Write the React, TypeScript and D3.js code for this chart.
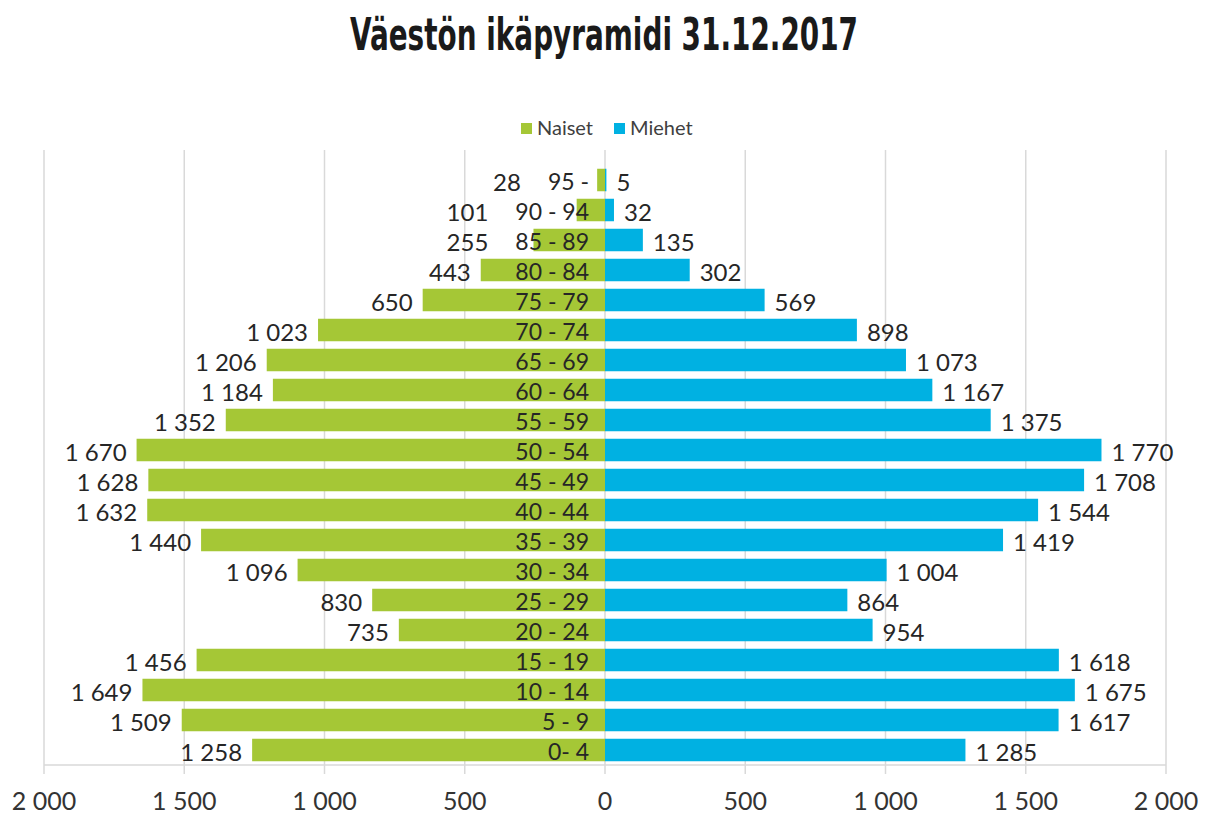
import { useEffect, useRef } from 'react';
import * as d3 from 'd3';

const ageGroups = ['95 -', '90 - 94', '85 - 89', '80 - 84', '75 - 79', '70 - 74', '65 - 69', '60 - 64', '55 - 59', '50 - 54',
  '45 - 49', '40 - 44', '35 - 39', '30 - 34', '25 - 29', '20 - 24', '15 - 19', '10 - 14', '5 - 9', '0- 4'];
const naiset = [28, 101, 255, 443, 650, 1023, 1206, 1184, 1352, 1670, 1628, 1632, 1440, 1096, 830, 735, 1456, 1649, 1509, 1258];
const miehet = [5, 32, 135, 302, 569, 898, 1073, 1167, 1375, 1770, 1708, 1544, 1419, 1004, 864, 954, 1618, 1675, 1617, 1285];
const tickValues = [-2000, -1500, -1000, -500, 0, 500, 1000, 1500, 2000];

const GREEN = '#a5c736';
const BLUE = '#00b1e2';
const FONT = 'Lato, "Open Sans", sans-serif';

const fi = d3.formatLocale({ decimal: ',', thousands: '\u00a0', grouping: [3], currency: ['', '€'] });
const fmt = fi.format(',d');

const App = () => {
  const svgRef = useRef<SVGSVGElement>(null);

  useEffect(() => {
    if (!svgRef.current) return;
    const svg = d3.select(svgRef.current);
    svg.selectAll('*').remove();

    const width = 1213;
    const height = 816;

    const x = d3.scaleLinear().domain([-2000, 2000]).range([44, 1166]);
    const y = d3.scaleBand().domain(ageGroups).range([165, 765]).paddingInner(0.25).paddingOuter(0.125);
    const axisY = 765;
    const catRight = 589;

    svg.append('rect').attr('width', width).attr('height', height).attr('fill', '#fff');

    // otsikko
    svg.append('text')
      .attr('x', 604)
      .attr('y', 50)
      .attr('text-anchor', 'middle')
      .attr('textLength', 508)
      .attr('lengthAdjust', 'spacingAndGlyphs')
      .style('font-family', '"Liberation Sans Narrow", "DejaVu Sans Condensed", sans-serif')
      .style('font-weight', '700')
      .style('font-size', '45px')
      .style('fill', '#1a1a1a')
      .text('Väestön ikäpyramidi 31.12.2017');

    // legenda
    const legend = [
      { label: 'Naiset', color: GREEN, x: 521 },
      { label: 'Miehet', color: BLUE, x: 614 },
    ];
    const lg = svg.append('g');
    legend.forEach(l => {
      lg.append('rect').attr('x', l.x).attr('y', 123).attr('width', 11).attr('height', 11).attr('fill', l.color);
      lg.append('text')
        .attr('x', l.x + 16)
        .attr('y', 135)
        .style('font-family', FONT)
        .style('font-size', '20px')
        .style('fill', '#404040')
        .text(l.label);
    });

    // ruudukko
    svg.append('g')
      .selectAll('line')
      .data(tickValues)
      .enter()
      .append('line')
      .attr('x1', d => x(d))
      .attr('x2', d => x(d))
      .attr('y1', 150)
      .attr('y2', axisY + 9)
      .attr('stroke', '#d9d9d9')
      .attr('stroke-width', 1.5);

    svg.append('line')
      .attr('x1', x(-2000))
      .attr('x2', x(2000))
      .attr('y1', axisY)
      .attr('y2', axisY)
      .attr('stroke', '#d9d9d9')
      .attr('stroke-width', 1.5);

    svg.append('g')
      .selectAll('text')
      .data(tickValues)
      .enter()
      .append('text')
      .attr('x', d => x(d))
      .attr('y', 810)
      .attr('text-anchor', 'middle')
      .style('font-family', FONT)
      .style('font-size', '25px')
      .style('fill', '#333')
      .text(d => fmt(Math.abs(d)));

    const rowsN = ageGroups.map((g, i) => ({ g, v: naiset[i] }));
    const rowsM = ageGroups.map((g, i) => ({ g, v: miehet[i] }));

    svg.append('g')
      .selectAll('rect')
      .data(rowsN)
      .enter()
      .append('rect')
      .attr('x', d => x(-d.v))
      .attr('y', d => y(d.g)!)
      .attr('width', d => x(0) - x(-d.v))
      .attr('height', y.bandwidth())
      .attr('fill', GREEN);

    svg.append('g')
      .selectAll('rect')
      .data(rowsM)
      .enter()
      .append('rect')
      .attr('x', x(0))
      .attr('y', d => y(d.g)!)
      .attr('width', d => x(d.v) - x(0))
      .attr('height', y.bandwidth())
      .attr('fill', BLUE);

    // ikäryhmät
    const cats = svg.append('g')
      .selectAll('text')
      .data(ageGroups)
      .enter()
      .append('text')
      .attr('x', catRight)
      .attr('y', d => y(d)! + y.bandwidth() / 2 + 1)
      .attr('text-anchor', 'end')
      .attr('dominant-baseline', 'central')
      .style('font-family', FONT)
      .style('font-size', '23px')
      .style('fill', '#262626')
      .text(d => d);

    const catWidths: number[] = [];
    cats.each(function () { catWidths.push((this as SVGTextElement).getComputedTextLength()); });

    const labelStyle = (sel: any) => sel
      .style('font-family', FONT)
      .style('font-size', '24px')
      .style('fill', '#262626')
      .attr('dominant-baseline', 'central');

    // naisten arvot: palkin vasemmalle puolelle, ei ikäryhmän päälle
    svg.append('g')
      .selectAll('text')
      .data(rowsN)
      .enter()
      .append('text')
      .attr('x', (d, i) => Math.min(x(-d.v) - 10, catRight - catWidths[i] - 27))
      .attr('y', d => y(d.g)! + y.bandwidth() / 2 + 1)
      .attr('text-anchor', 'end')
      .call(labelStyle)
      .text(d => fmt(d.v));

    svg.append('g')
      .selectAll('text')
      .data(rowsM)
      .enter()
      .append('text')
      .attr('x', d => x(d.v) + 10)
      .attr('y', d => y(d.g)! + y.bandwidth() / 2 + 1)
      .attr('text-anchor', 'start')
      .call(labelStyle)
      .text(d => fmt(d.v));
  }, []);

  return (
    <svg ref={svgRef} width="1213" height="816" viewBox="0 0 1213 816"
      style={{ position: 'absolute', left: 0, top: 0, display: 'block' }} />
  );
};

export default App;
